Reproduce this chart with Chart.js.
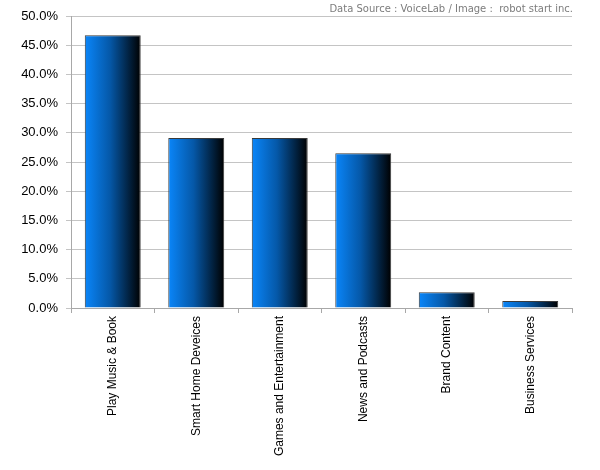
<!DOCTYPE html>
<html>
<head>
<meta charset="utf-8">
<script src="https://cdn.jsdelivr.net/npm/chart.js@4"></script>
<style>
  html, body { margin: 0; padding: 0; background: #fff; }
  #wrap { position: relative; width: 600px; height: 470px; }
  #source {
    position: absolute; top: 3px; right: 27px;
    font: 10px "DejaVu Sans", sans-serif; color: #7c7c7c;
    white-space: pre;
  }
</style>
</head>
<body>
<div id="wrap">
  <canvas id="chart" width="600" height="470"></canvas>
  <div id="source">Data Source : VoiceLab / Image :  robot start inc.</div>
</div>
<script>
// categories and values
const categories = ['Play Music & Book', 'Smart Home Deveices', 'Games and Entertainment', 'News and Podcasts', 'Brand Content', 'Business Services'];
const shares = [46.7, 29.1, 29.1, 26.5, 2.7, 1.2];
const yTicks = [0, 5, 10, 15, 20, 25, 30, 35, 40, 45, 50];

const BAR_PCT = 0.67;

// left-to-right blue -> black gradient for each bar
function barGradient(context) {
    const chart = context.chart;
    const xScale = chart.scales.x;
    if (!xScale || context.dataIndex === undefined) return '#0a7cf0';
    const cx = xScale.getPixelForValue(context.dataIndex);
    const w = (xScale.width / categories.length) * BAR_PCT;
    if (!isFinite(cx) || !isFinite(w)) return '#0a7cf0';
    const g = chart.ctx.createLinearGradient(cx - w / 2, 0, cx + w / 2, 0);
    g.addColorStop(0, '#0a86fa');
    g.addColorStop(0.45, '#0558a8');
    g.addColorStop(1, '#000000');
    return g;
}

new Chart(document.getElementById('chart'), {
    type: 'bar',
    data: {
        labels: categories,
        datasets: [{
            data: shares,
            backgroundColor: barGradient,
            borderColor: '#3a3a3a',
            borderWidth: 1,
            barPercentage: BAR_PCT,
            categoryPercentage: 1
        }]
    },
    options: {
        responsive: false,
        animation: false,
        layout: { padding: { left: 0, right: 28, top: 16, bottom: 0 } },
        plugins: {
            legend: { display: false },
            tooltip: { enabled: false }
        },
        scales: {
            x: {
                grid: { drawOnChartArea: false, tickLength: 5, color: '#a8a8a8' },
                border: { color: '#a8a8a8' },
                ticks: {
                    autoSkip: false,
                    maxRotation: 90,
                    minRotation: 90,
                    padding: 3,
                    color: '#000',
                    font: { family: 'Liberation Sans', size: 12 }
                },
                afterFit: (s) => { s.height = 162; }
            },
            y: {
                min: 0,
                max: 50,
                afterBuildTicks: (s) => { s.ticks = yTicks.map(v => ({ value: v })); },
                grid: { color: '#c4c4c4', tickLength: 5 },
                border: { color: '#a8a8a8' },
                ticks: {
                    padding: 8,
                    color: '#000',
                    font: { family: 'Liberation Sans', size: 13 },
                    callback: (v) => v.toFixed(1) + '%'
                },
                afterFit: (s) => { s.width = 71; }
            }
        }
    }
});
</script>
</body>
</html>
